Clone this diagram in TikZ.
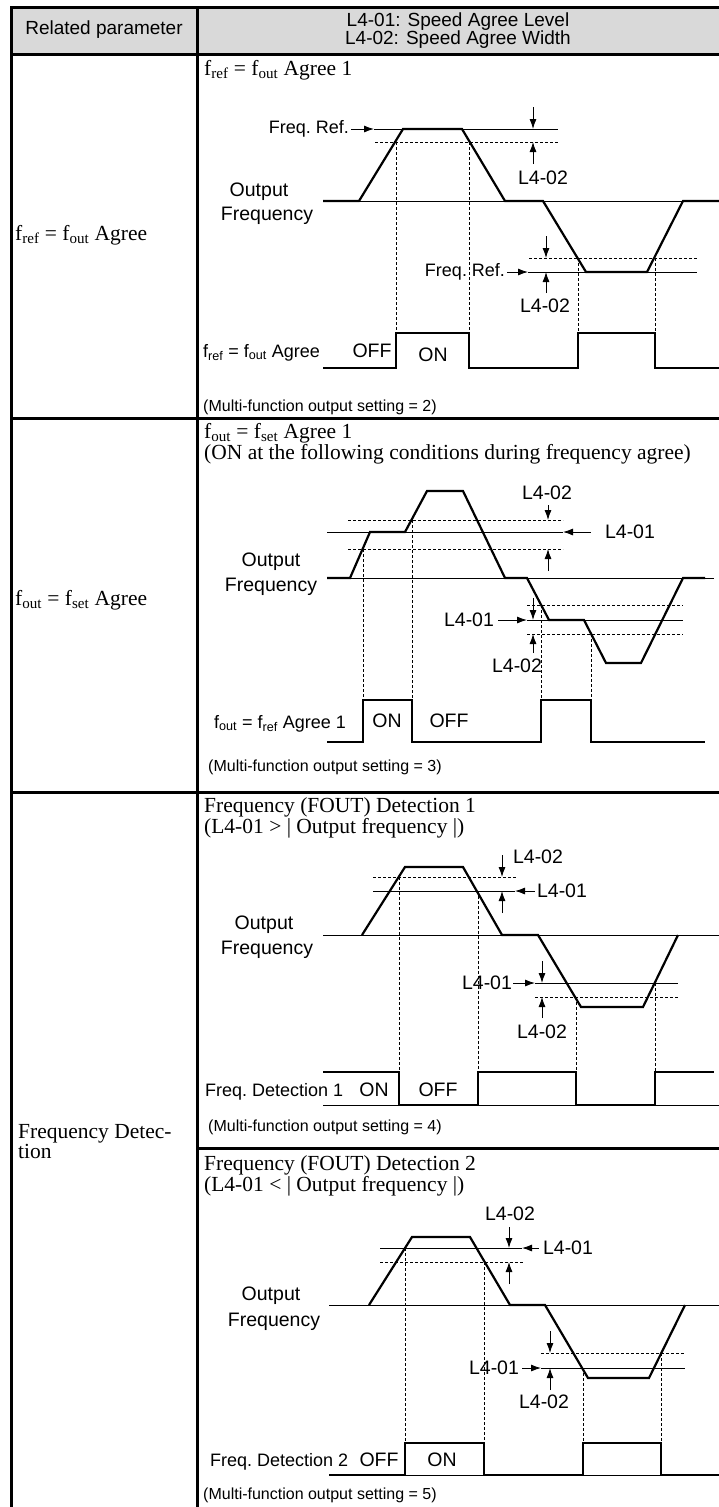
\documentclass[tikz,border=0pt]{standalone}
\usepackage{fontspec}
\setmainfont{Liberation Serif}
\newfontfamily\lsans{Liberation Sans}
\usetikzlibrary{arrows.meta}
\definecolor{hdr}{RGB}{217,217,217}
\begin{document}
\begin{tikzpicture}[x=1pt,y=-1pt,
  tbl/.style={line width=3pt,line cap=rect},
  crv/.style={line width=2.2pt},
  thinl/.style={line width=0.9pt},
  dsh/.style={line width=0.9pt,dash pattern=on 3pt off 2pt},
  arr/.style={line width=0.9pt,-{Latex[length=10pt,width=7pt]}},
  lab/.style={inner sep=0pt,font=\lsans\fontsize{19.5}{22}\selectfont},
  reflab/.style={inner sep=0pt,font=\lsans\fontsize{18}{21}\selectfont},
  sig/.style={inner sep=0pt,anchor=base west,font=\lsans\fontsize{18}{21}\selectfont},
  onoff/.style={inner sep=0pt,anchor=base,font=\lsans\fontsize{19.5}{22}\selectfont},
  note/.style={inner sep=0pt,anchor=base west,font=\lsans\fontsize{16}{19}\selectfont},
  ttl/.style={inner sep=0pt,anchor=base west,font=\fontsize{21.5}{24}\selectfont},
  hd/.style={inner sep=0pt,font=\lsans\fontsize{19}{22}\selectfont}]
\useasboundingbox (0,0) rectangle (719,1507);
% ---------- table ----------
\fill[hdr] (11,7) rectangle (719,54);
\node[hd] (hrel) at (104,30) {Related parameter};
\node[hd] (hlev) at (458,22) {L4-01: Speed Agree Level};
\node[hd] (hwid) at (458,40) {L4-02: Speed Agree Width};
\draw[tbl] (11,7) -- (719,7);
\draw[tbl] (11,54) -- (719,54);
\draw[tbl] (11,418) -- (719,418);
\draw[tbl] (11,792) -- (719,792);
\draw[tbl] (197,1148) -- (719,1148);
\draw[tbl] (11,7) -- (11,1510);
\draw[tbl] (197,7) -- (197,1510);
\node[ttl] (l1) at (15,240) {f\textsubscript{ref} = f\textsubscript{out} Agree};
\node[ttl] (l2) at (15,605) {f\textsubscript{out} = f\textsubscript{set} Agree};
\node[ttl] (l3a) at (18,1138) {Frequency Detec-};
\node[ttl] (l3b) at (18,1158) {tion};
% ---------- panel 1 ----------
\node[ttl] (t1) at (204,75) {f\textsubscript{ref} = f\textsubscript{out} Agree 1};
\draw[dsh] (396,142) -- (396,333);
\draw[dsh] (469,142) -- (469,333);
\draw[dsh] (578,258) -- (578,333);
\draw[dsh] (655,258) -- (655,333);
\draw[thinl] (374,129) -- (558,129);
\draw[dsh] (375,142) -- (558,142);
\draw[thinl] (528,272) -- (697,272);
\draw[dsh] (529,258) -- (697,258);
\draw[thinl] (323,201) -- (719,201);
\draw[crv] (323,201) -- (359,201) -- (403,129) -- (462,129) -- (505,201) -- (543,201) -- (586,272) -- (647,272) -- (683,201) -- (719,201);
\draw[crv] (323,368) -- (396,368) -- (396,333) -- (469,333) -- (469,368) -- (578,368) -- (578,333) -- (655,333) -- (655,368) -- (719,368);
\node[reflab,anchor=east] (p1ref) at (349,129) {Freq.\ Ref.};
\coordinate (p1refT) at (374,129);
\draw[arr] ([xshift=2pt]p1ref.east) -- (p1refT);
\node[lab] (p1w1) at (543,178) {L4-02};
\coordinate (p1a) at (533,107); \coordinate (p1aT) at (533,129);
\coordinate (p1b) at (533,164); \coordinate (p1bT) at (533,142);
\draw[arr] (p1a) -- (p1aT);
\draw[arr] (p1b) -- (p1bT);
\node[lab] (p1o) at (259,192) {Output};
\node[lab] (p1f) at (267,216) {Frequency};
\node[reflab] (p1ref2) at (465,272) {Freq.\ Ref.};
\coordinate (p1ref2T) at (528,272);
\draw[arr] ([xshift=2pt]p1ref2.east) -- (p1ref2T);
\node[lab] (p1w2) at (545,306) {L4-02};
\coordinate (p1c) at (546,236); \coordinate (p1cT) at (546,258);
\coordinate (p1d) at (546,293); \coordinate (p1dT) at (546,272);
\draw[arr] (p1c) -- (p1cT);
\draw[arr] (p1d) -- (p1dT);
\node[sig] (p1s) at (203,357) {f\textsubscript{ref} = f\textsubscript{out} Agree};
\node[onoff] (p1off) at (372,357) {OFF};
\node[onoff] (p1on) at (433,361) {ON};
\node[note] (p1n) at (203,411) {(Multi-function output setting = 2)};
% ---------- panel 2 ----------
\node[ttl] (t2) at (204,438) {f\textsubscript{out} = f\textsubscript{set} Agree 1};
\node[ttl] (t2b) at (204,459) {(ON at the following conditions during frequency agree)};
\draw[dsh] (363,549) -- (363,700);
\draw[dsh] (412,520) -- (412,700);
\draw[dsh] (541,605) -- (541,700);
\draw[dsh] (591,634) -- (591,700);
\draw[dsh] (348,520) -- (563,520);
\draw[thinl] (327,532) -- (563,532);
\draw[dsh] (348,549) -- (563,549);
\draw[dsh] (527,605) -- (683,605);
\draw[thinl] (527,620) -- (683,620);
\draw[dsh] (527,634) -- (683,634);
\draw[thinl] (327,578) -- (714,578);
\draw[crv] (327,578) -- (350,578) -- (370,532) -- (405,532) -- (427,491) -- (463,491) -- (505,578) -- (527,578) -- (549,620) -- (584,620) -- (606,663) -- (641,663) -- (683,578) -- (705,578);
\draw[crv] (327,742) -- (363,742) -- (363,700) -- (412,700) -- (412,742) -- (541,742) -- (541,700) -- (591,700) -- (591,742) -- (705,742);
\node[lab] (p2w1) at (547,493) {L4-02};
\coordinate (p2a) at (548,505); \coordinate (p2aT) at (548,520);
\coordinate (p2b) at (548,571); \coordinate (p2bT) at (548,549);
\draw[arr] (p2a) -- (p2aT);
\draw[arr] (p2b) -- (p2bT);
\node[lab] (p2l1) at (630,532) {L4-01};
\coordinate (p2l1T) at (563,532);
\draw[arr] ([xshift=-14pt]p2l1.west) -- (p2l1T);
\node[lab] (p2o) at (271,562) {Output};
\node[lab] (p2f) at (271,587) {Frequency};
\node[lab] (p2l2) at (469,620) {L4-01};
\coordinate (p2l2T) at (527,620);
\draw[arr] ([xshift=4pt]p2l2.east) -- (p2l2T);
\coordinate (p2c) at (533,598); \coordinate (p2cT) at (533,620);
\coordinate (p2d) at (533,653); \coordinate (p2dT) at (533,634);
\draw[arr] (p2c) -- (p2cT);
\draw[arr] (p2d) -- (p2dT);
\node[lab] (p2w2) at (517,666) {L4-02};
\node[sig] (p2s) at (214,728) {f\textsubscript{out} = f\textsubscript{ref} Agree 1};
\node[onoff] (p2on) at (387,727) {ON};
\node[onoff] (p2off) at (449,727) {OFF};
\node[note] (p2n) at (208,771) {(Multi-function output setting = 3)};
% ---------- panel 3 ----------
\node[ttl] (t3) at (204,812) {Frequency (FOUT) Detection 1};
\node[ttl] (t3b) at (204,833) {(L4-01 > | Output frequency |)};
\draw[dsh] (399,877) -- (399,1072);
\draw[dsh] (478,891) -- (478,1072);
\draw[dsh] (576,997) -- (576,1072);
\draw[dsh] (655,983) -- (655,1072);
\draw[dsh] (373,877) -- (517,877);
\draw[thinl] (373,891) -- (515,891);
\draw[thinl] (535,983) -- (678,983);
\draw[dsh] (535,997) -- (678,997);
\draw[thinl] (323,935) -- (719,935);
\draw[thinl] (323,1105) -- (719,1105);
\draw[crv] (362,935) -- (405,867) -- (463,867) -- (502,935) -- (538,935) -- (581,1007) -- (643,1007) -- (678,935);
\draw[crv] (323,1072) -- (399,1072) -- (399,1105) -- (478,1105) -- (478,1072) -- (576,1072) -- (576,1105) -- (655,1105) -- (655,1072) -- (714,1072);
\node[lab] (p3w1) at (538,857) {L4-02};
\coordinate (p3a) at (502,855); \coordinate (p3aT) at (502,877);
\coordinate (p3b) at (502,913); \coordinate (p3bT) at (502,891);
\draw[arr] (p3a) -- (p3aT);
\draw[arr] (p3b) -- (p3bT);
\node[lab] (p3l1) at (562,891) {L4-01};
\coordinate (p3l1T) at (515,891);
\draw[arr] ([xshift=-2pt]p3l1.west) -- (p3l1T);
\node[lab] (p3o) at (264,925) {Output};
\node[lab] (p3f) at (267,950) {Frequency};
\node[lab] (p3l2) at (487,983) {L4-01};
\coordinate (p3l2T) at (535,983);
\draw[arr] ([xshift=1pt]p3l2.east) -- (p3l2T);
\coordinate (p3c) at (542,961); \coordinate (p3cT) at (542,983);
\coordinate (p3d) at (542,1018); \coordinate (p3dT) at (542,997);
\draw[arr] (p3c) -- (p3cT);
\draw[arr] (p3d) -- (p3dT);
\node[lab] (p3w2) at (542,1032) {L4-02};
\node[sig] (p3s) at (205,1096) {Freq.\ Detection 1};
\node[onoff] (p3on) at (374,1096) {ON};
\node[onoff] (p3off) at (438,1096) {OFF};
\node[note] (p3n) at (208,1131) {(Multi-function output setting = 4)};
% ---------- panel 4 ----------
\node[ttl] (t4) at (204,1170) {Frequency (FOUT) Detection 2};
\node[ttl] (t4b) at (204,1191) {(L4-01 < | Output frequency |)};
\draw[dsh] (405,1248) -- (405,1443);
\draw[dsh] (484,1262) -- (484,1443);
\draw[dsh] (583,1368) -- (583,1443);
\draw[dsh] (661,1353) -- (661,1443);
\draw[thinl] (380,1248) -- (522,1248);
\draw[dsh] (380,1262) -- (524,1262);
\draw[dsh] (541,1353) -- (685,1353);
\draw[thinl] (541,1368) -- (685,1368);
\draw[thinl] (329,1305) -- (719,1305);
\draw[thinl] (329,1475) -- (719,1475);
\draw[crv] (369,1305) -- (412,1237) -- (470,1237) -- (510,1305) -- (545,1305) -- (588,1378) -- (649,1378) -- (685,1305);
\draw[crv] (329,1475) -- (405,1475) -- (405,1443) -- (484,1443) -- (484,1475) -- (583,1475) -- (583,1443) -- (661,1443) -- (661,1475) -- (719,1475);
\node[lab] (p4w1) at (510,1214) {L4-02};
\coordinate (p4a) at (509,1227); \coordinate (p4aT) at (509,1248);
\coordinate (p4b) at (509,1284); \coordinate (p4bT) at (509,1262);
\draw[arr] (p4a) -- (p4aT);
\draw[arr] (p4b) -- (p4bT);
\node[lab] (p4l1) at (568,1248) {L4-01};
\coordinate (p4l1T) at (522,1248);
\draw[arr] ([xshift=-4pt]p4l1.west) -- (p4l1T);
\node[lab] (p4o) at (271,1296) {Output};
\node[lab] (p4f) at (274,1322) {Frequency};
\node[lab] (p4l2) at (494,1368) {L4-01};
\coordinate (p4l2T) at (541,1368);
\draw[arr] ([xshift=3pt]p4l2.east) -- (p4l2T);
\coordinate (p4c) at (550,1331); \coordinate (p4cT) at (550,1353);
\coordinate (p4d) at (550,1390); \coordinate (p4dT) at (550,1368);
\draw[arr] (p4c) -- (p4cT);
\draw[arr] (p4d) -- (p4dT);
\node[lab] (p4w2) at (544,1402) {L4-02};
\node[sig] (p4s) at (210,1466) {Freq.\ Detection 2};
\node[onoff] (p4off) at (379,1466) {OFF};
\node[onoff] (p4on) at (442,1466) {ON};
\node[note] (p4n) at (203,1499) {(Multi-function output setting = 5)};
\end{tikzpicture}
\end{document}
